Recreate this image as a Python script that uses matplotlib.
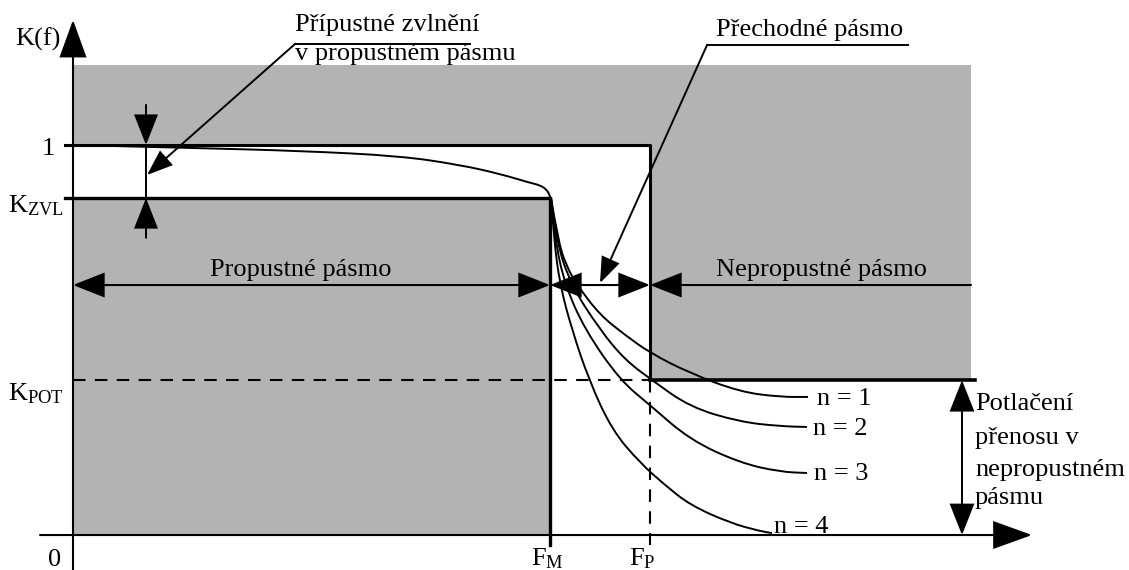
import numpy as np
import matplotlib
matplotlib.use("Agg")
import matplotlib.pyplot as plt
from matplotlib.patches import FancyArrowPatch, PathPatch
from matplotlib.path import Path

plt.rcParams['font.family'] = ['Liberation Serif', 'DejaVu Serif']
plt.rcParams['mathtext.fontset'] = 'custom'
plt.rcParams['mathtext.rm'] = 'Liberation Serif'
plt.rcParams['mathtext.it'] = 'Liberation Serif:italic'

# levels of the transfer K(f) and the key frequencies
K_ONE = 1.0
K_ZVL = 0.864
K_POT = 0.397
K_TOP = 1.205
F_M = 4.77
F_P = 5.77
F_END = 8.98

# ripple in the passband (Chebyshev-like)
ripple_f = [0.0, 1.27, 2.27, 3.27, 3.87, 4.27, 4.57, 4.67, 4.74, 4.77, 4.78]
ripple_k = [1.0, 0.992, 0.985, 0.972, 0.949, 0.926, 0.903, 0.897, 0.885, 0.869, 0.859]

# roll-off for filter orders n = 1..4
n_labels = ["n = 1", "n = 2", "n = 3", "n = 4"]
n1_f = [4.78, 4.85, 4.93, 5.04, 5.27, 5.52, 5.77, 6.17, 6.67, 7.07, 7.35]
n1_k = [0.864, 0.756, 0.692, 0.641, 0.564, 0.513, 0.467, 0.415, 0.367, 0.354, 0.354]
n2_f = [4.78, 4.83, 4.98, 5.27, 5.52, 5.79, 6.17, 6.67, 7.07, 7.34]
n2_k = [0.864, 0.756, 0.641, 0.526, 0.449, 0.397, 0.328, 0.290, 0.279, 0.277]
n3_f = [4.78, 4.82, 4.92, 5.12, 5.47, 5.77, 6.17, 6.67, 7.07, 7.34]
n3_k = [0.864, 0.756, 0.641, 0.526, 0.397, 0.333, 0.244, 0.185, 0.162, 0.159]
n4_f = [4.78, 4.81, 4.87, 4.99, 5.16, 5.39, 5.67, 5.92, 6.17, 6.57, 6.87, 6.99]
n4_k = [0.864, 0.756, 0.641, 0.526, 0.397, 0.269, 0.185, 0.128, 0.077, 0.031, 0.010, 0.005]

GRAY = '#b3b3b3'

fig = plt.figure(figsize=(11.29, 5.70), dpi=100)
ax = fig.add_axes([0, 0, 1, 1])
ax.set_xlim(-0.73, 10.56)
ax.set_ylim(-0.0897, 1.3718)
ax.axis('off')


def smooth(xs, ys, lw=1.4):
    # quadratic b-spline through the read points
    pts = list(zip(xs, ys))
    verts = [pts[0]]
    codes = [Path.MOVETO]
    for i in range(1, len(pts) - 1):
        mid = ((pts[i][0] + pts[i + 1][0]) / 2, (pts[i][1] + pts[i + 1][1]) / 2)
        verts += [pts[i], mid]
        codes += [Path.CURVE3, Path.CURVE3]
    verts.append(pts[-1])
    codes.append(Path.LINETO)
    ax.add_patch(PathPatch(Path(verts, codes), fc='none', ec='black', lw=lw, zorder=4))


def arrow(p0, p1, style, hl, hw, lw=1.4):
    ax.add_patch(FancyArrowPatch(p0, p1, arrowstyle=f'{style},head_length={hl},head_width={hw}',
                                 mutation_scale=1, shrinkA=0, shrinkB=0, lw=lw,
                                 color='black', joinstyle='miter', zorder=6))


# gray areas
ax.fill_between([0, F_END], K_ONE, K_TOP, color=GRAY, lw=0, zorder=1)
ax.fill_between([0, F_M], 0, K_ZVL, color=GRAY, lw=0, zorder=1)
ax.fill_between([F_P, F_END], K_POT, K_ONE, color=GRAY, lw=0, zorder=1)

# tolerance scheme
ax.plot([-0.08, F_P, F_P], [K_ONE, K_ONE, K_POT], color='black', lw=2.2, zorder=3)
ax.plot([F_P, 9.02], [K_POT, K_POT], color='black', lw=2.6, zorder=3)
ax.plot([-0.08, F_M, F_M], [K_ZVL, K_ZVL, -0.026], color='black', lw=2.4, zorder=3,
        solid_joinstyle='miter')
ax.plot([0, F_P], [K_POT, K_POT], color='black', lw=1.5, dashes=(6, 4.5), zorder=3)
ax.plot([F_P, F_P], [K_POT, -0.026], color='black', lw=1.5, dashes=(6, 4.5), zorder=3)

# curves
smooth(ripple_f, ripple_k)
for cf, ck in [(n1_f, n1_k), (n2_f, n2_k), (n3_f, n3_k), (n4_f, n4_k)]:
    smooth(cf, ck)

# axes with arrows
arrow((-0.33, 0), (9.59, 0), '-|>', 25, 9, lw=1.5)
arrow((0, -0.0897), (0, 1.3205), '-|>', 24, 8.7, lw=1.5)

# band arrows
K_BAND = 0.641
arrow((0, K_BAND), (F_M, K_BAND), '<|-|>', 20, 7.9, lw=1.5)
arrow((F_M, K_BAND), (F_P, K_BAND), '<|-|>', 20, 7.9, lw=1.5)
arrow((F_END, K_BAND), (F_P, K_BAND), '-|>', 20, 7.9, lw=1.5)

# ripple arrows
F_RIP = 0.73
arrow((F_RIP, 1.103), (F_RIP, K_ONE), '-|>', 19.4, 7.6)
arrow((F_RIP, 0.762), (F_RIP, K_ZVL), '-|>', 19.4, 7.6)
ax.plot([F_RIP, F_RIP], [K_ONE, K_ZVL], color='black', lw=1.4, zorder=5)

# attenuation arrow
arrow((8.89, K_POT), (8.89, 0), '<|-|>', 20, 7.9)

# leaders
ax.plot([3.97, 2.22], [1.259, 1.259], color='black', lw=1.4, zorder=5)
arrow((2.22, 1.259), (0.74, 0.923), '-|>', 16, 6)
ax.plot([8.35, 6.34], [1.256, 1.256], color='black', lw=1.4, zorder=5)
arrow((6.34, 1.256), (5.27, 0.646), '-|>', 16, 6)

FS = 19
ax.text(-0.58, 1.256, 'K(f)', fontsize=FS, ha='left', va='baseline')
ax.text(-0.25, 0.974, '1', fontsize=FS, ha='center', va='baseline')
ax.text(-0.65, 0.828, r'$\mathrm{K}_{\mathrm{ZVL}}$', fontsize=FS, ha='left', va='baseline')
ax.text(-0.65, 0.346, r'$\mathrm{K}_{\mathrm{POT}}$', fontsize=FS, ha='left', va='baseline')
ax.text(-0.18, -0.079, '0', fontsize=FS, ha='center', va='baseline')
ax.text(4.74, -0.077, r'$\mathrm{F}_{\mathrm{M}}$', fontsize=FS, ha='center', va='baseline')
ax.text(5.69, -0.077, r'$\mathrm{F}_{\mathrm{P}}$', fontsize=FS, ha='center', va='baseline')

ax.text(2.22, 1.292, 'Přípustné zvlnění', fontsize=FS, ha='left', va='baseline')
ax.text(2.22, 1.218, 'v propustném pásmu', fontsize=FS, ha='left', va='baseline')
ax.text(6.43, 1.279, 'Přechodné pásmo', fontsize=FS, ha='left', va='baseline')
ax.text(2.28, 0.664, 'Propustné pásmo', fontsize=FS, ha='center', va='baseline')
ax.text(7.49, 0.664, 'Nepropustné pásmo', fontsize=FS, ha='center', va='baseline')

n_pos = [(7.44, 0.333), (7.40, 0.256), (7.41, 0.141), (7.01, 0.005)]
for lab, (tx, ty) in zip(n_labels, n_pos):
    ax.text(tx, ty, lab, fontsize=FS, ha='left', va='baseline')

for line, ty in zip(['Potlačení', 'přenosu v', 'nepropustném', 'pásmu'],
                    [0.321, 0.233, 0.151, 0.079]):
    ax.text(9.02, ty, line, fontsize=FS, ha='left', va='baseline')

fig.savefig('out.png', dpi=100, facecolor='white')
